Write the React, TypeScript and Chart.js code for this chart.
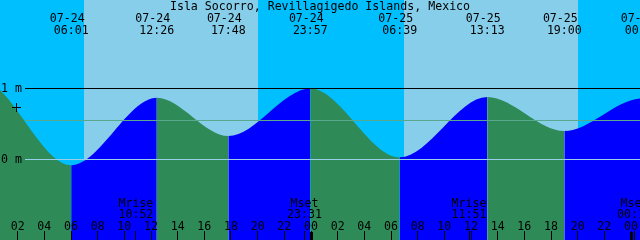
import { useEffect, useRef } from 'react';
import { Chart, registerables } from 'chart.js';

Chart.register(...registerables);

// ---------- data ----------
const TITLE = 'Isla Socorro, Revillagigedo Islands, Mexico';

// tide extremes (first and last two are just outside the visible window)
const tideDate = ['07-23', '07-23', '07-24', '07-24', '07-24', '07-24', '07-25', '07-25', '07-25', '07-26', '07-26'];
const tideClock = ['16:55', '23:10', '06:01', '12:26', '17:48', '23:57', '06:39', '13:13', '19:00', '00:50', '07:20'];
const tideHeight = [0.35, 1.13, -0.08, 0.87, 0.33, 1.0, 0.03, 0.88, 0.4, 0.86, 0.05];

// daylight (sunrise -> sunset)
const sunriseDate = ['07-24', '07-25'];
const sunriseClock = ['06:58', '06:58'];
const sunsetDate = ['07-24', '07-25'];
const sunsetClock = ['20:02', '20:02'];

// moon events
const moonKind = ['Mrise', 'Mset', 'Mrise', 'Mset'];
const moonDate = ['07-24', '07-24', '07-25', '07-26'];
const moonClock = ['10:52', '23:31', '11:51', '00:16'];

// hour ticks (hours since 07-24 00:00)
const tickHours = [2, 4, 6, 8, 10, 12, 14, 16, 18, 20, 22, 24, 26, 28, 30, 32, 34, 36, 38, 40, 42, 44, 46, 48];
const tickLabels = ['02', '04', '06', '08', '10', '12', '14', '16', '18', '20', '22', '00', '02', '04', '06', '08', '10', '12', '14', '16', '18', '20', '22', '00'];
const midnightHours = [24, 48];

// level lines
const levelValues = [1, 0];
const levelLabels = ['1 m', '0 m'];
const meanLevel = 0.55;
const markLevel = 0.73;

// ---------- style ----------
const NIGHT = '#00BFFF';
const DAY = '#87CEEB';
const FLOOD = '#0000FF';
const EBB = '#2E8B57';
const DATUM_COLOR = '#9ACFEA';
const MSL_COLOR = '#58A88E';
const FONT = '11.6px "DejaVu Sans Mono", "Liberation Mono", monospace';

const X_MIN = 0.675;
const X_MAX = 48.675;
const Y_MAX = 2.2465;
const Y_MIN = -1.1338;

function hoursOf(date: string, clock: string): number {
  const day = parseInt(date.slice(3), 10);
  const [h, m] = clock.split(':').map(Number);
  return (day - 24) * 24 + h + m / 60;
}

const tidePlugin = {
  id: 'tideDecor',
  beforeDraw(chart: any) {
    const { ctx, chartArea, scales } = chart;
    const { left, right, top, bottom } = chartArea;
    const x = scales.x;
    ctx.save();
    ctx.fillStyle = NIGHT;
    ctx.fillRect(left, top, right - left, bottom - top);
    ctx.fillStyle = DAY;
    for (let i = 0; i < sunriseDate.length; i++) {
      const x0 = Math.round(x.getPixelForValue(hoursOf(sunriseDate[i], sunriseClock[i])));
      const x1 = Math.round(x.getPixelForValue(hoursOf(sunsetDate[i], sunsetClock[i])));
      ctx.fillRect(x0, top, x1 - x0, bottom - top);
    }
    ctx.restore();
  },
  afterDatasetsDraw(chart: any) {
    const { ctx, chartArea, scales } = chart;
    const { left, right, bottom } = chartArea;
    const x = scales.x;
    const y = scales.y;
    const lineStart = 25;
    ctx.save();
    // level lines
    ctx.fillStyle = MSL_COLOR;
    ctx.fillRect(lineStart, Math.floor(y.getPixelForValue(meanLevel)), right - lineStart, 1);
    for (let i = 0; i < levelValues.length; i++) {
      ctx.fillStyle = levelValues[i] === 0 ? DATUM_COLOR : '#000000';
      ctx.fillRect(lineStart, Math.floor(y.getPixelForValue(levelValues[i])), right - lineStart, 1);
    }
    ctx.fillStyle = '#000000';
    ctx.font = FONT;
    ctx.textBaseline = 'alphabetic';
    ctx.textAlign = 'left';
    for (let i = 0; i < levelValues.length; i++) {
      const py = Math.floor(y.getPixelForValue(levelValues[i]));
      ctx.fillText(levelLabels[i], 1, py + 4);
    }
    // mark "+"
    const my = Math.floor(y.getPixelForValue(markLevel));
    ctx.fillRect(12, my, 9, 1);
    ctx.fillRect(16, my - 4, 1, 9);

    // title
    ctx.textAlign = 'center';
    ctx.fillText(TITLE, (left + right) / 2, 10);

    // tide event labels
    for (let i = 0; i < tideDate.length; i++) {
      const px = x.getPixelForValue(hoursOf(tideDate[i], tideClock[i]));
      ctx.fillText(tideDate[i], px - 4, 22);
      ctx.fillText(tideClock[i], px, 34);
    }

    // moon labels + ticks
    for (let i = 0; i < moonKind.length; i++) {
      const px = x.getPixelForValue(hoursOf(moonDate[i], moonClock[i]));
      ctx.fillText(moonKind[i], px, 207);
      ctx.fillText(moonClock[i], px, 218);
      ctx.fillRect(Math.floor(px), bottom - 9, 1, 9);
    }

    // hour ticks
    for (let i = 0; i < tickHours.length; i++) {
      const px = x.getPixelForValue(tickHours[i]);
      ctx.fillText(tickLabels[i], px, 230);
      ctx.fillRect(Math.floor(px), bottom - 9, 1, 9);
    }
    for (const h of midnightHours) {
      const px = x.getPixelForValue(h);
      ctx.fillRect(Math.floor(px) - 1, bottom - 8, 3, 8);
    }
    ctx.restore();
  },
};

export default function App() {
  const ref = useRef<HTMLCanvasElement | null>(null);
  useEffect(() => {
    if (!ref.current) return;
    const points = tideHeight.map((v, i) => ({ x: hoursOf(tideDate[i], tideClock[i]), y: v }));
    const chart = new Chart(ref.current, {
      type: 'line',
      data: {
        datasets: [
          {
            data: points,
            fill: 'start',
            backgroundColor: EBB,
            borderColor: 'rgba(0,0,0,0)',
            borderWidth: 0,
            pointRadius: 0,
            cubicInterpolationMode: 'monotone',
            capBezierPoints: false,
            segment: {
              backgroundColor: (c: any) => (c.p1.parsed.y > c.p0.parsed.y ? FLOOD : EBB),
            },
          } as any,
        ],
      },
      options: {
        animation: false,
        responsive: false,
        events: [],
        layout: { padding: 0 },
        plugins: {
          legend: { display: false },
          tooltip: { enabled: false },
          title: { display: false },
        },
        scales: {
          x: { type: 'linear', min: X_MIN, max: X_MAX, display: false },
          y: { type: 'linear', min: Y_MIN, max: Y_MAX, display: false },
        },
      },
      plugins: [tidePlugin],
    });
    return () => chart.destroy();
  }, []);
  return (
    <div style={{ position: 'absolute', left: 0, top: 0, width: 640, height: 240 }}>
      <canvas ref={ref} width={640} height={240} style={{ display: 'block' }} />
    </div>
  );
}
